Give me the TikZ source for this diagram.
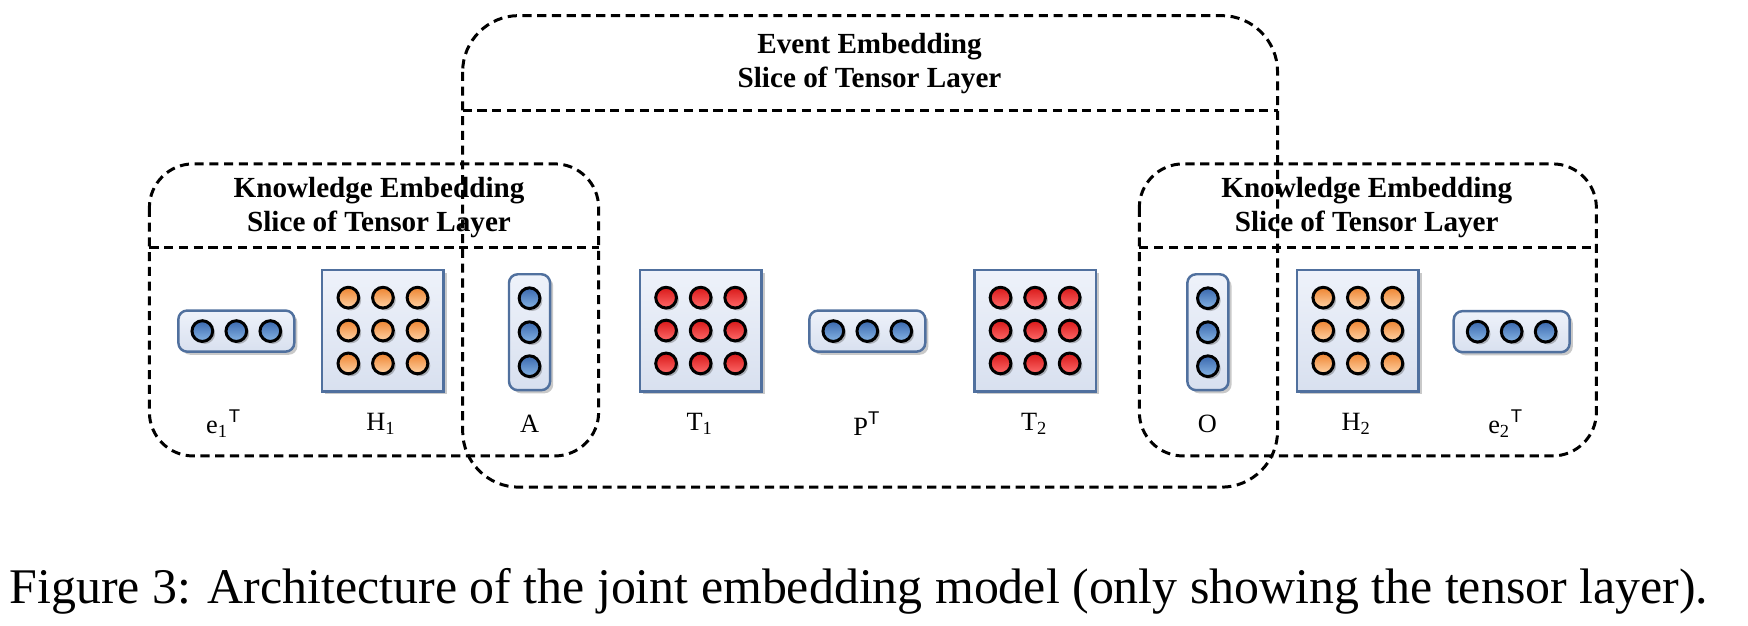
\documentclass[tikz,border=0pt]{standalone}
\usepackage{fontspec}
\setmainfont{Liberation Serif}
\setsansfont{Liberation Sans}
\usetikzlibrary{shadows}
\definecolor{boxedge}{HTML}{50709E}
\definecolor{boxfillA}{HTML}{EEF2FA}
\definecolor{boxfillB}{HTML}{D8E0EF}
\definecolor{blueA}{HTML}{3A68AE}
\definecolor{blueB}{HTML}{86B4E4}
\definecolor{orangeA}{HTML}{EE8430}
\definecolor{orangeB}{HTML}{FFD3A6}
\definecolor{redA}{HTML}{D81818}
\definecolor{redB}{HTML}{FF6A6A}
\begin{document}
\begin{tikzpicture}[x=0.011148cm,y=-0.011148cm,
  dashbox/.style={draw=black, line width=0.85pt, dash pattern=on 2.6pt off 1.6pt},
  title/.style={font=\bfseries\fontsize{8.3}{9.8}\selectfont, align=center, inner sep=0pt},
  lbl/.style={font=\fontsize{7.5}{9}\selectfont, inner sep=0pt},
  shad/.style={drop shadow={shadow xshift=0.9pt, shadow yshift=-0.9pt, opacity=0.3, fill=black!70}},
  cshad/.style={drop shadow={shadow xshift=0.7pt, shadow yshift=-0.7pt, opacity=0.35, fill=black!70}},
  elem/.style={draw=boxedge, line width=0.7pt, inner sep=0pt, top color=boxfillA, bottom color=boxfillB, shad},
  grid/.style={elem, minimum width=34.6pt, minimum height=34.6pt},
  hvec/.style={elem, rounded corners=2.5pt, minimum width=33pt, minimum height=11.7pt},
  vvec/.style={elem, rounded corners=2.5pt, minimum width=11.7pt, minimum height=33pt},
  cell/.style={circle, draw=black, line width=0.85pt, inner sep=0pt, minimum size=5.9pt, cshad},
  bcell/.style={cell, top color=blueA, bottom color=blueB},
  ocell/.style={cell, top color=orangeA, bottom color=orangeB},
  rcell/.style={cell, top color=redA, bottom color=redB}
]
\useasboundingbox (0,0) rectangle (1568,561);

% container boxes
\coordinate (evTL) at (415,14);
\coordinate (evBR) at (1146,437);
\coordinate (klTL) at (134,147);
\coordinate (klBR) at (537,409);
\coordinate (krTL) at (1022,147);
\coordinate (krBR) at (1432,409);
\draw[dashbox, rounded corners=16pt] (evTL) rectangle (evBR);
\draw[dashbox, rounded corners=12.5pt] (klTL) rectangle (klBR);
\draw[dashbox, rounded corners=12.5pt] (krTL) rectangle (krBR);
\coordinate (evD1) at (415,99);  \coordinate (evD2) at (1146,99);
\coordinate (klD1) at (134,222); \coordinate (klD2) at (537,222);
\coordinate (krD1) at (1022,222); \coordinate (krD2) at (1432,222);
\draw[dashbox] (evD1) -- (evD2);
\draw[dashbox] (klD1) -- (klD2);
\draw[dashbox] (krD1) -- (krD2);

% titles
\node[title] (tev) at (780,57) {Event Embedding\\Slice of Tensor Layer};
\node[title] (tkl) at (340,186) {Knowledge Embedding\\Slice of Tensor Layer};
\node[title] (tkr) at (1226,186) {Knowledge Embedding\\Slice of Tensor Layer};

% elements
\node[hvec] (e1) at (212,297) {};
\node[grid] (H1) at (343.5,296.5) {};
\node[vvec] (A) at (475,298) {};
\node[grid] (T1) at (628.5,296.5) {};
\node[hvec] (P) at (778,297) {};
\node[grid] (T2) at (928.5,296.5) {};
\node[vvec] (O) at (1083.5,298) {};
\node[grid] (H2) at (1218,296.5) {};
\node[hvec] (e2) at (1356,297.5) {};

\foreach \i/\n in {-1/a,0/b,1/c}{
  \node[bcell] (e1\n) at ([shift={(30.5*\i,0)}]e1.center) {};
  \node[bcell] (P\n) at ([shift={(30.5*\i,0)}]P.center) {};
  \node[bcell] (e2\n) at ([shift={(30.5*\i,0)}]e2.center) {};
  \node[bcell] (A\n) at ([shift={(0,30.5*\i)}]A.center) {};
  \node[bcell] (O\n) at ([shift={(0,30.5*\i)}]O.center) {};
  \foreach \j/\m in {-1/a,0/b,1/c}{
    \node[ocell] (H1\n\m) at ([shift={(31*\i,29.5*\j)}]H1.center) {};
    \node[ocell] (H2\n\m) at ([shift={(31*\i,29.5*\j)}]H2.center) {};
    \node[rcell] (T1\n\m) at ([shift={(31*\i,29.5*\j)}]T1.center) {};
    \node[rcell] (T2\n\m) at ([shift={(31*\i,29.5*\j)}]T2.center) {};
  }
}

% labels
\node[lbl] (le1) at (201,380) {e\textsubscript{1}\textsuperscript{\sffamily T}};
\node[lbl] (lH1) at (342,380) {H\textsubscript{1}};
\node[lbl] (lA) at (475,380) {A};
\node[lbl] (lT1) at (628,380) {T\textsubscript{1}};
\node[lbl] (lP) at (778,380) {P\textsuperscript{\sffamily T}};
\node[lbl] (lT2) at (928,380) {T\textsubscript{2}};
\node[lbl] (lO) at (1083,380) {O};
\node[lbl] (lH2) at (1217,380) {H\textsubscript{2}};
\node[lbl] (le2) at (1351,380) {e\textsubscript{2}\textsuperscript{\sffamily T}};

% caption
\node[anchor=base, inner sep=0pt, font=\fontsize{14.2}{16}\selectfont] (cap) at (770.5,541)
  {Figure 3: Architecture of the joint embedding model (only showing the tensor layer).};
\end{tikzpicture}
\end{document}
